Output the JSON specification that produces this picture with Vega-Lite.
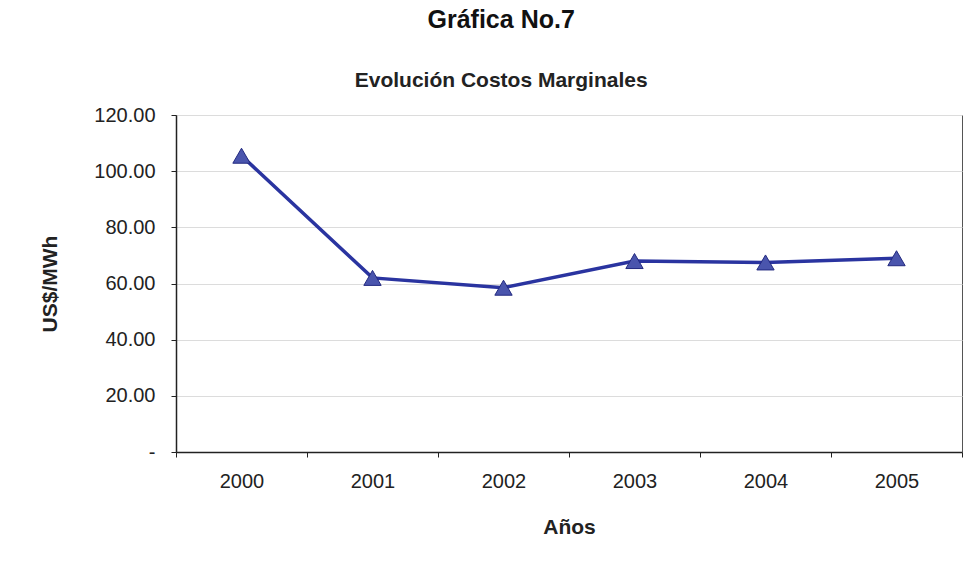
{
  "$schema": "https://vega.github.io/schema/vega-lite/v6.json",
  "width": 786,
  "height": 337,
  "autosize": {"type": "none"},
  "padding": {"left": 176, "top": 115, "right": 10, "bottom": 119},
  "background": "white",
  "title": {
    "text": "Gráfica No.7",
    "subtitle": "Evolución Costos Marginales",
    "anchor": "middle",
    "frame": "bounds",
    "font": "Liberation Sans",
    "fontSize": 25,
    "fontWeight": "bold",
    "color": "#111111",
    "subtitleFont": "Liberation Sans",
    "subtitleFontSize": 21,
    "subtitleFontWeight": "bold",
    "subtitleColor": "#222222",
    "subtitlePadding": 37,
    "offset": 14
  },
  "data": {
    "values": [
      {"anio": "2000", "costo": 105.5},
      {"anio": "2001", "costo": 62.0},
      {"anio": "2002", "costo": 58.5},
      {"anio": "2003", "costo": 68.0},
      {"anio": "2004", "costo": 67.5},
      {"anio": "2005", "costo": 69.0}
    ]
  },
  "encoding": {
    "x": {
      "field": "anio",
      "type": "ordinal",
      "title": "Años",
      "scale": {"paddingInner": 0, "paddingOuter": 0},
      "axis": {
        "labelAngle": 0,
        "tickBand": "extent",
        "tickSize": 5,
        "tickColor": "#222222",
        "domainColor": "#222222",
        "domainWidth": 1.5,
        "labelFont": "Liberation Sans",
        "labelFontSize": 20,
        "labelColor": "#222222",
        "labelPadding": 14,
        "titleFont": "Liberation Sans",
        "titleFontSize": 21,
        "titleFontWeight": "bold",
        "titleColor": "#222222",
        "titlePadding": 25
      }
    },
    "y": {
      "field": "costo",
      "type": "quantitative",
      "title": "US$/MWh",
      "scale": {"domain": [0, 120], "nice": false},
      "axis": {
        "values": [0, 20, 40, 60, 80, 100, 120],
        "labelExpr": "datum.value == 0 ? '-' : format(datum.value, '.2f')",
        "tickSize": 5,
        "tickColor": "#222222",
        "domainColor": "#222222",
        "domainWidth": 1.5,
        "grid": true,
        "gridColor": "#dcdcdc",
        "labelFont": "Liberation Sans",
        "labelFontSize": 20,
        "labelColor": "#222222",
        "labelPadding": 16,
        "titleFont": "Liberation Sans",
        "titleFontSize": 21,
        "titleFontWeight": "bold",
        "titleColor": "#222222",
        "titlePadding": 33
      }
    }
  },
  "layer": [
    {
      "mark": {"type": "line", "color": "#2a34a0", "strokeWidth": 3.5}
    },
    {
      "mark": {
        "type": "point",
        "shape": "triangle-up",
        "filled": true,
        "size": 300,
        "fill": "#4a55ad",
        "stroke": "#232a80",
        "strokeWidth": 1,
        "opacity": 1
      }
    }
  ],
  "config": {
    "view": {"stroke": "#555555", "strokeWidth": 1}
  }
}
